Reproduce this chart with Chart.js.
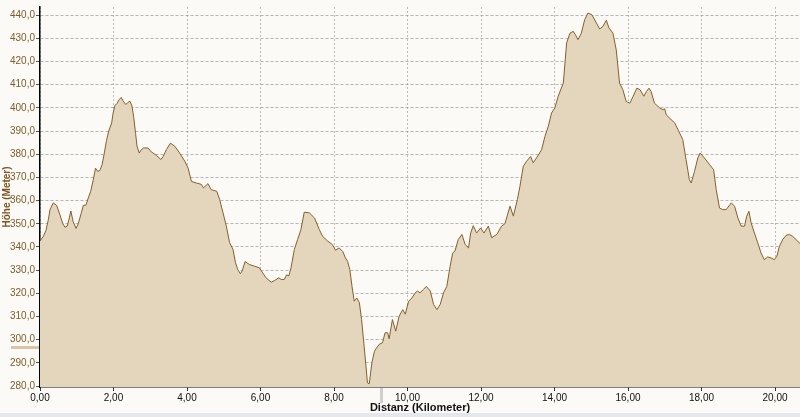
<!DOCTYPE html>
<html>
<head>
<meta charset="utf-8">
<script src="https://cdn.jsdelivr.net/npm/chart.js@4/dist/chart.umd.min.js"></script>
<style>
  html, body { margin: 0; padding: 0; background: #fbfaf6; }
  #wrap { width: 800px; height: 417px; }
</style>
</head>
<body>
<div id="wrap"><canvas id="profile" width="800" height="417"></canvas></div>
<script>
// elevation profile
const distKm = [
  0, 0.09, 0.16, 0.23, 0.27, 0.36, 0.45, 0.54, 0.62, 0.68, 0.74, 0.79, 0.84, 0.90, 0.98, 1.04,
  1.13, 1.18, 1.25, 1.31, 1.38, 1.45, 1.51, 1.57, 1.63, 1.69, 1.75, 1.81, 1.87, 1.95, 1.99, 2.04,
  2.10, 2.15, 2.21, 2.26, 2.33, 2.38, 2.44, 2.50, 2.55, 2.60, 2.64, 2.70, 2.76, 2.82, 2.94, 3.03,
  3.17, 3.29, 3.35, 3.44, 3.55, 3.67, 3.80, 3.94, 4.03, 4.12, 4.25, 4.39, 4.45, 4.57, 4.66, 4.81,
  4.89, 4.98, 5.07, 5.16, 5.25, 5.32, 5.38, 5.45, 5.50, 5.58, 5.70, 5.84, 5.97, 6.06, 6.15, 6.29,
  6.38, 6.50, 6.56, 6.65, 6.71, 6.77, 6.83, 6.92, 7.01, 7.10, 7.19, 7.33, 7.47, 7.60, 7.69, 7.83,
  7.96, 8.04, 8.14, 8.24, 8.31, 8.37, 8.43, 8.49, 8.55, 8.62, 8.69, 8.75, 8.82, 8.87, 8.91, 8.96,
  9.03, 9.10, 9.16, 9.23, 9.32, 9.39, 9.46, 9.50, 9.59, 9.68, 9.77, 9.87, 9.94, 10.03, 10.12, 10.21,
  10.27, 10.34, 10.43, 10.51, 10.62, 10.71, 10.80, 10.89, 10.98, 11.07, 11.16, 11.23, 11.29, 11.38, 11.48, 11.57,
  11.66, 11.72, 11.79, 11.88, 11.99, 12.08, 12.20, 12.29, 12.43, 12.56, 12.65, 12.79, 12.88, 12.99, 13.06, 13.15,
  13.24, 13.35, 13.42, 13.51, 13.65, 13.74, 13.83, 13.92, 14.01, 14.10, 14.24, 14.33, 14.42, 14.51, 14.57, 14.64,
  14.73, 14.82, 14.91, 15.02, 15.14, 15.23, 15.32, 15.41, 15.48, 15.59, 15.68, 15.77, 15.86, 15.95, 16.05, 16.14,
  16.24, 16.33, 16.43, 16.50, 16.57, 16.63, 16.72, 16.86, 16.95, 17.00, 17.04, 17.13, 17.27, 17.36, 17.49, 17.58,
  17.67, 17.72, 17.81, 17.90, 17.96, 18.08, 18.22, 18.33, 18.40, 18.49, 18.58, 18.67, 18.81, 18.90, 18.99, 19.08,
  19.17, 19.23, 19.29, 19.35, 19.44, 19.53, 19.62, 19.71, 19.80, 19.89, 19.98, 20.05, 20.12, 20.21, 20.30, 20.39,
  20.48, 20.57, 20.68
];
const altM = [
  342.5, 344.6, 347, 352, 356, 359, 358, 354, 350, 348.5, 349, 352, 355.5, 351, 348, 350,
  355, 358, 358, 361, 364, 369, 374, 372.6, 373, 375.5, 380.5, 386, 390, 393.5, 397.8, 401,
  402, 403.5, 404.5, 403, 401.5, 402, 403, 401, 396, 389, 383.5, 380.5, 382, 382.7, 382.7, 381,
  379.5, 377.7, 379, 382, 384.8, 383.4, 380.5, 377, 374, 368.3, 367.6, 367, 365.5, 367.3, 364.7, 364,
  360.4, 354.7, 349, 341.8, 339, 333.2, 330.3, 328.5, 329.6, 333.7, 332.4, 331.7, 331, 328.8, 326.7, 324.8,
  325.5, 326.7, 326, 326, 328, 327.5, 331, 338.9, 343.2, 347.5, 355, 354.7, 352.5, 347.5, 344.6, 342.5,
  341, 338.6, 339.6, 338, 335.3, 333.8, 330.3, 323, 316.6, 318, 316, 308.7, 297.2, 288.6, 281.4, 281,
  290, 295, 296.5, 298, 298.7, 303, 303, 300.4, 308.7, 303.7, 310, 313, 311, 316.6, 318, 320.2,
  321, 320.2, 321.6, 323, 321, 315.2, 313, 315.2, 320.2, 323, 331.7, 337.4, 338.2, 343.2, 345.4, 341,
  339.6, 346, 349.2, 346, 348.2, 346, 349, 344, 345.4, 349, 350, 357.6, 353.3, 360.4, 366.2, 374.8,
  377, 379, 376.3, 378.4, 382, 387.7, 392, 397.8, 400, 405, 410.7, 428, 432.2, 433, 431.5, 429.4,
  432.2, 438, 440.9, 440.1, 436.6, 434, 435.2, 437.8, 434.5, 432.2, 425, 410.7, 407.8, 402.8, 402, 405,
  408.5, 407.8, 405, 407, 408.5, 407, 402, 400, 399.2, 399.6, 397, 395.6, 393.5, 390.6, 386.3, 377.7,
  369, 367.6, 372.6, 378.4, 380.5, 378.4, 375.5, 373.3, 364.7, 356.8, 356.1, 356.1, 359, 357.6, 352.5, 349,
  349, 353.3, 355.4, 350.4, 346, 341.8, 337.4, 334.5, 335.7, 335.3, 334.5, 336, 340.3, 343.2, 345, 345.4,
  344.6, 343.2, 341.5
];
const xTicks = [0, 2, 4, 6, 8, 10, 12, 14, 16, 18, 20];
const yTicks = [280, 290, 300, 310, 320, 330, 340, 350, 360, 370, 380, 390, 400, 410, 420, 430, 440];

// position of the app's cursor marker
const cursorKm = 9.27;
const cursorAlt = 297;

const points = distKm.map((d, i) => ({ x: d, y: altM[i] }));

const backdrop = {
  id: 'backdrop',
  beforeDraw(chart) {
    const c = chart.ctx;
    c.save();
    c.fillStyle = '#fbfaf6';
    c.fillRect(0, 0, chart.width, chart.height);
    c.fillStyle = '#e4e8ec';
    c.fillRect(0, chart.height - 4, chart.width, 4);
    c.restore();
  },
  afterDraw(chart) {
    const c = chart.ctx;
    const area = chart.chartArea;
    const xs = chart.scales.x, ys = chart.scales.y;
    c.save();
    c.fillStyle = '#cfcfcf';
    c.fillRect(Math.round(xs.getPixelForValue(cursorKm)) - 1, area.bottom + 1, 3, 15);
    c.fillStyle = '#d8c6a6';
    c.fillRect(11, Math.round(ys.getPixelForValue(cursorAlt)) - 1, area.left - 12, 3);
    c.restore();
  }
};

new Chart(document.getElementById('profile'), {
  type: 'line',
  data: {
    datasets: [{
      data: points,
      borderColor: '#85602c',
      borderWidth: 1,
      backgroundColor: '#e4d6bd',
      fill: 'start',
      pointRadius: 0,
      tension: 0
    }]
  },
  options: {
    responsive: false,
    animation: false,
    layout: { padding: { top: 7, right: 0, bottom: 0, left: 0 } },
    plugins: {
      legend: { display: false },
      tooltip: { enabled: false }
    },
    scales: {
      x: {
        type: 'linear',
        min: 0,
        max: 20.68,
        z: 1,
        afterBuildTicks: s => { s.ticks = xTicks.map(v => ({ value: v })); },
        afterFit: s => { s.height = 30; },
        border: { color: '#000', width: 1.5, dash: [2, 2] },
        grid: { color: 'rgba(125,125,125,0.5)', tickColor: '#333', tickLength: 4, tickBorderDash: [] },
        ticks: {
          color: '#111',
          padding: 1,
          maxRotation: 0,
          font: { family: 'Liberation Sans', size: 10 },
          callback: v => v.toFixed(2).replace('.', ',')
        },
        title: {
          display: true,
          text: 'Distanz (Kilometer)',
          color: '#111',
          font: { family: 'Liberation Sans', size: 11, weight: 'bold', lineHeight: 1.2 },
          padding: { top: 0, bottom: 2 }
        }
      },
      y: {
        min: 279.6,
        max: 443.5,
        z: 1,
        afterBuildTicks: s => { s.ticks = yTicks.map(v => ({ value: v })); },
        afterFit: s => { s.width = 40; },
        border: { color: '#000', width: 1.5, dash: [3, 2] },
        grid: { color: 'rgba(125,125,125,0.55)', tickColor: '#555', tickLength: 4, tickBorderDash: [] },
        ticks: {
          color: '#7d5c2c',
          padding: 1,
          font: { family: 'Liberation Sans', size: 10 },
          callback: v => v.toFixed(1).replace('.', ',')
        },
        title: {
          display: true,
          text: 'Höhe (Meter)',
          color: '#7a5522',
          font: { family: 'Liberation Sans', size: 10, weight: 'bold', lineHeight: 1.2 },
          padding: { top: 1, bottom: 0 }
        }
      }
    }
  },
  plugins: [backdrop]
});
</script>
</body>
</html>
